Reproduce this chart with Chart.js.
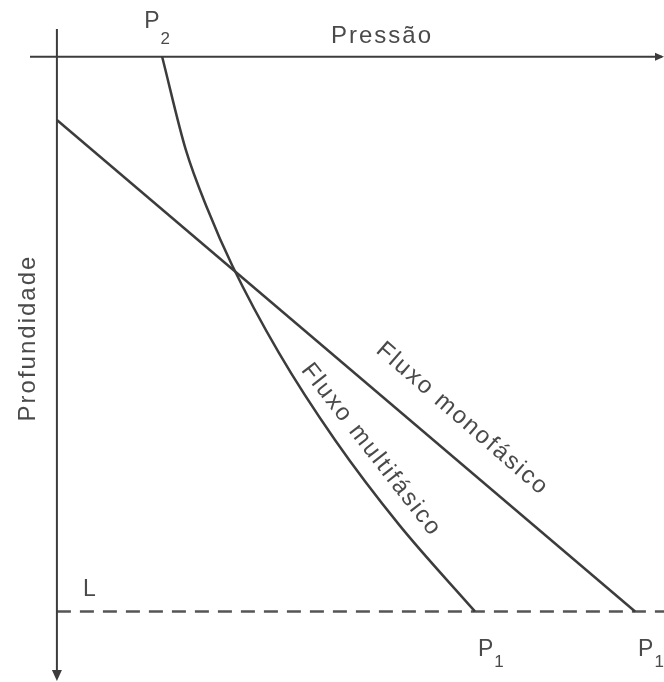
<!DOCTYPE html>
<html>
<head>
<meta charset="utf-8">
<script src="https://cdn.jsdelivr.net/npm/chart.js@4"></script>
<style>
  html, body { margin: 0; padding: 0; background: #fff; }
  #chart { display: block; }
</style>
</head>
<body>
<canvas id="chart" width="664" height="682"></canvas>
<script>
// Pressão (x) vs Profundidade (y, down) — 0..100 relative units
const monoPressure = [0, 100];
const monoDepth = [11.4, 100];

const multiPressure = [18.2, 22.3, 26.1, 30.3, 38.4, 48.1, 59.2, 72.3];
const multiDepth = [0, 16.8, 27.6, 37.6, 53.4, 69.1, 84.4, 100];

const levelPressure = [0, 105];
const levelDepth = [100, 100];

const lineColor = '#3c3c3c';
const textColor = '#4a4a4a';
const font = '"Liberation Sans", Arial, sans-serif';

const toPoints = (xs, ys) => xs.map((x, i) => ({ x, y: ys[i] }));

// axes, arrows and all the annotations
const sketchPlugin = {
  id: 'sketch',
  afterDatasetsDraw(chart) {
    const { ctx, chartArea: a, scales: { x, y } } = chart;
    const x0 = x.getPixelForValue(0), y0 = y.getPixelForValue(0);
    ctx.save();
    ctx.strokeStyle = lineColor;
    ctx.fillStyle = lineColor;
    ctx.lineWidth = 2;

    // Pressão axis (top, arrow to the right)
    ctx.beginPath();
    ctx.moveTo(30, y0);
    ctx.lineTo(a.right - 2, y0);
    ctx.stroke();
    ctx.beginPath();
    ctx.moveTo(a.right, y0);
    ctx.lineTo(a.right - 9, y0 - 4);
    ctx.lineTo(a.right - 9, y0 + 4);
    ctx.closePath();
    ctx.fill();

    // Profundidade axis (left, arrow down)
    const yb = 681;
    ctx.beginPath();
    ctx.moveTo(x0, a.top);
    ctx.lineTo(x0, yb - 4);
    ctx.stroke();
    ctx.beginPath();
    ctx.moveTo(x0, yb);
    ctx.lineTo(x0 - 5, yb - 11);
    ctx.lineTo(x0 + 5, yb - 11);
    ctx.closePath();
    ctx.fill();

    ctx.fillStyle = textColor;
    ctx.textBaseline = 'alphabetic';
    ctx.letterSpacing = '2px';

    const sub = (main, idx, px, py, drop) => {
      ctx.textAlign = 'left';
      ctx.font = '23px ' + font;
      ctx.fillText(main, px, py);
      const w = ctx.measureText(main).width;
      ctx.font = '17px ' + font;
      ctx.fillText(idx, px + w - 1, py + drop);
    };

    // P2 at the top of the multiphase curve
    const p2x = x.getPixelForValue(multiPressure[0]);
    sub('P', '2', p2x - 18, y0 - 29, 16);

    // P1 under both end points
    const yL = y.getPixelForValue(100);
    sub('P', '1', x.getPixelForValue(multiPressure[multiPressure.length - 1]) + 3, yL + 45, 11);
    sub('P', '1', x.getPixelForValue(monoPressure[1]) + 3, yL + 45, 11);

    // L
    ctx.font = '23px ' + font;
    ctx.textAlign = 'left';
    ctx.fillText('L', x0 + 26, yL - 15);

    // axis titles
    ctx.font = '24px ' + font;
    ctx.textAlign = 'center';
    ctx.fillText('Pressão', 382, y0 - 14);
    ctx.save();
    ctx.translate(35, 338);
    ctx.rotate(-Math.PI / 2);
    ctx.fillText('Profundidade', 0, 0);
    ctx.restore();

    // curve labels along the lines
    const along = (text, cx, cy, ang) => {
      ctx.save();
      ctx.translate(cx, cy);
      ctx.rotate(ang);
      ctx.textAlign = 'center';
      ctx.fillText(text, 0, 0);
      ctx.restore();
    };
    along('Fluxo monofásico', 458, 424, 41 * Math.PI / 180);
    along('Fluxo multifásico', 366, 454, 52 * Math.PI / 180);

    ctx.restore();
  }
};

new Chart(document.getElementById('chart'), {
  type: 'scatter',
  data: {
    datasets: [
      {
        label: 'Fluxo monofásico',
        data: toPoints(monoPressure, monoDepth),
        showLine: true, borderColor: lineColor, borderWidth: 2.5,
        pointRadius: 0
      },
      {
        label: 'Fluxo multifásico',
        data: toPoints(multiPressure, multiDepth),
        showLine: true, borderColor: lineColor, borderWidth: 2.5,
        pointRadius: 0, cubicInterpolationMode: 'monotone'
      },
      {
        label: 'L',
        data: toPoints(levelPressure, levelDepth),
        showLine: true, borderColor: '#555', borderWidth: 2.5,
        borderDash: [14, 9], pointRadius: 0
      }
    ]
  },
  options: {
    responsive: false,
    animation: false,
    layout: { padding: { left: 28, top: 29, right: 0, bottom: 4 } },
    plugins: { legend: { display: false }, tooltip: { enabled: false } },
    scales: {
      x: { type: 'linear', min: -5, max: 105, display: false },
      y: { type: 'linear', min: -5, max: 112, reverse: true, display: false }
    }
  },
  plugins: [sketchPlugin]
});
</script>
</body>
</html>
